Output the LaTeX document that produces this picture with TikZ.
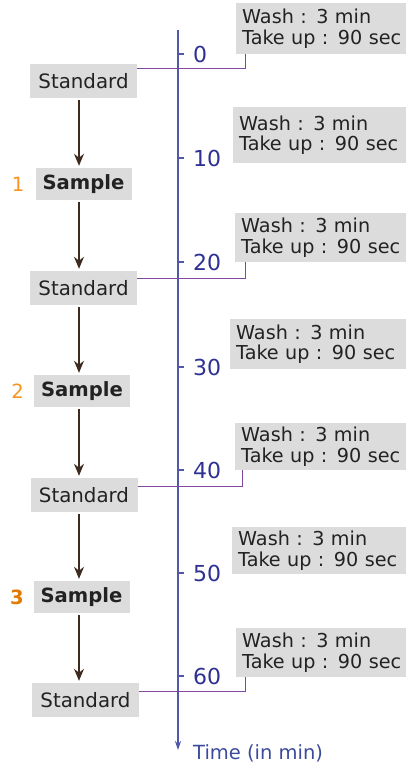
\documentclass[tikz,border=0pt]{standalone}
\usepackage{fontspec}
\setmainfont{DejaVu Sans}
\usetikzlibrary{arrows.meta}
\definecolor{boxgray}{RGB}{220,220,220}
\definecolor{txtgray}{RGB}{34,34,34}
\definecolor{axisblue}{RGB}{80,88,170}
\definecolor{tickblue}{RGB}{46,49,146}
\definecolor{timeblue}{RGB}{60,74,156}
\definecolor{orangeA}{RGB}{247,148,29}
\definecolor{orangeB}{RGB}{224,123,0}
\definecolor{brownarr}{RGB}{61,43,31}
\definecolor{purpleconn}{RGB}{128,72,160}
\tikzset{
  stdbox/.style={fill=boxgray, minimum width=107pt, minimum height=34pt, inner sep=0pt, text=txtgray, font=\fontsize{19.8}{20}\selectfont},
  smpbox/.style={fill=boxgray, minimum width=96pt, minimum height=32pt, inner sep=0pt, text=txtgray, font=\fontsize{19.6}{20}\selectfont\bfseries},
  numlbl/.style={text=orangeA, inner sep=0pt, font=\fontsize{19.6}{20}\selectfont},
  washbox/.style={fill=boxgray, anchor=north west, inner xsep=6pt, inner ysep=0pt, align=left, text width=165pt, text=txtgray, font=\fontsize{19.2}{20.5}\selectfont},
  flowarr/.style={draw=brownarr, line width=1.3pt, -{Stealth[length=12pt,width=10pt]}},
  axisline/.style={draw=axisblue, line width=1.5pt, -{Stealth[length=9pt,width=6pt]}},
  tickline/.style={draw=axisblue, line width=1.2pt},
  ticklbl/.style={anchor=west, inner sep=0pt, text=tickblue, font=\fontsize{22}{22}\selectfont},
  conn/.style={draw=purpleconn, line width=1pt},
}
\begin{document}
\begin{tikzpicture}[x=1pt,y=-1pt]
\useasboundingbox (0,0) rectangle (405,767);
% flow boxes
\node[stdbox] (std1) at (83.5,81) {Standard};
\node[smpbox] (smp1) at (83.5,184) {Sample};
\node[stdbox] (std2) at (83.5,288) {Standard};
\node[smpbox] (smp2) at (82,391) {Sample};
\node[stdbox] (std3) at (84,495) {Standard};
\node[smpbox] (smp3) at (81.5,597) {Sample};
\node[stdbox] (std4) at (85.5,700) {Standard};
% numbers
\node[numlbl] (n1) at (18,184) {1};
\node[numlbl] (n2) at (17.5,391) {2};
\node[numlbl, text=orangeB, font=\fontsize{19.6}{20}\selectfont\bfseries] (n3) at (17,597) {3};
% flow arrows
\draw[flowarr] ([yshift=-2pt]std1.south -| 79,0) -- ([yshift=2pt]smp1.north -| 79,0);
\draw[flowarr] ([yshift=-2pt]smp1.south -| 79,0) -- ([yshift=2pt]std2.north -| 79,0);
\draw[flowarr] ([yshift=-2pt]std2.south -| 79,0) -- ([yshift=2pt]smp2.north -| 79,0);
\draw[flowarr] ([yshift=-2pt]smp2.south -| 79,0) -- ([yshift=2pt]std3.north -| 79,0);
\draw[flowarr] ([yshift=-2pt]std3.south -| 79,0) -- ([yshift=2pt]smp3.north -| 79,0);
\draw[flowarr] ([yshift=-2pt]smp3.south -| 79,0) -- ([yshift=2pt]std4.north -| 79,0);
% time axis
\coordinate (atop) at (178,30);
\coordinate (abot) at (178,750);
\draw[axisline] (atop) -- (abot);
\foreach \yy/\lbl in {54/0,158/10,262/20,367/30,470/40,573/50,676/60}{
  \draw[tickline] (178,\yy) -- (184,\yy);
  \node[ticklbl] at (193,\yy) {\lbl};
}
\node[anchor=base west, inner sep=0pt, text=timeblue, font=\fontsize{19.5}{20}\selectfont] (tlbl) at (193,759) {Time (in min)};
% wash boxes
\node[washbox, minimum height=51pt] (w1) at (236,3) {Wash : 3 min\\Take up : 90 sec};
\node[washbox, minimum height=56pt] (w2) at (233,107) {Wash : 3 min\\Take up : 90 sec};
\node[washbox, minimum height=49pt] (w3) at (235,213) {Wash : 3 min\\Take up : 90 sec};
\node[washbox, minimum height=50pt] (w4) at (230,319) {Wash : 3 min\\Take up : 90 sec};
\node[washbox, minimum height=47pt] (w5) at (235,423) {Wash : 3 min\\Take up : 90 sec};
\node[washbox, minimum height=47pt] (w6) at (232,527) {Wash : 3 min\\Take up : 90 sec};
\node[washbox, minimum height=49pt] (w7) at (236,628) {Wash : 3 min\\Take up : 90 sec};
% connectors
\draw[conn] (std1.east |- 0,69) -| (w1.south -| 245,0);
\draw[conn] (std2.east |- 0,278) -| (w3.south -| 245,0);
\draw[conn] (std3.east |- 0,486) -| (w5.south -| 242,0);
\draw[conn] (std4.east |- 0,691) -| (w7.south -| 245.5,0);
\end{tikzpicture}
\end{document}
